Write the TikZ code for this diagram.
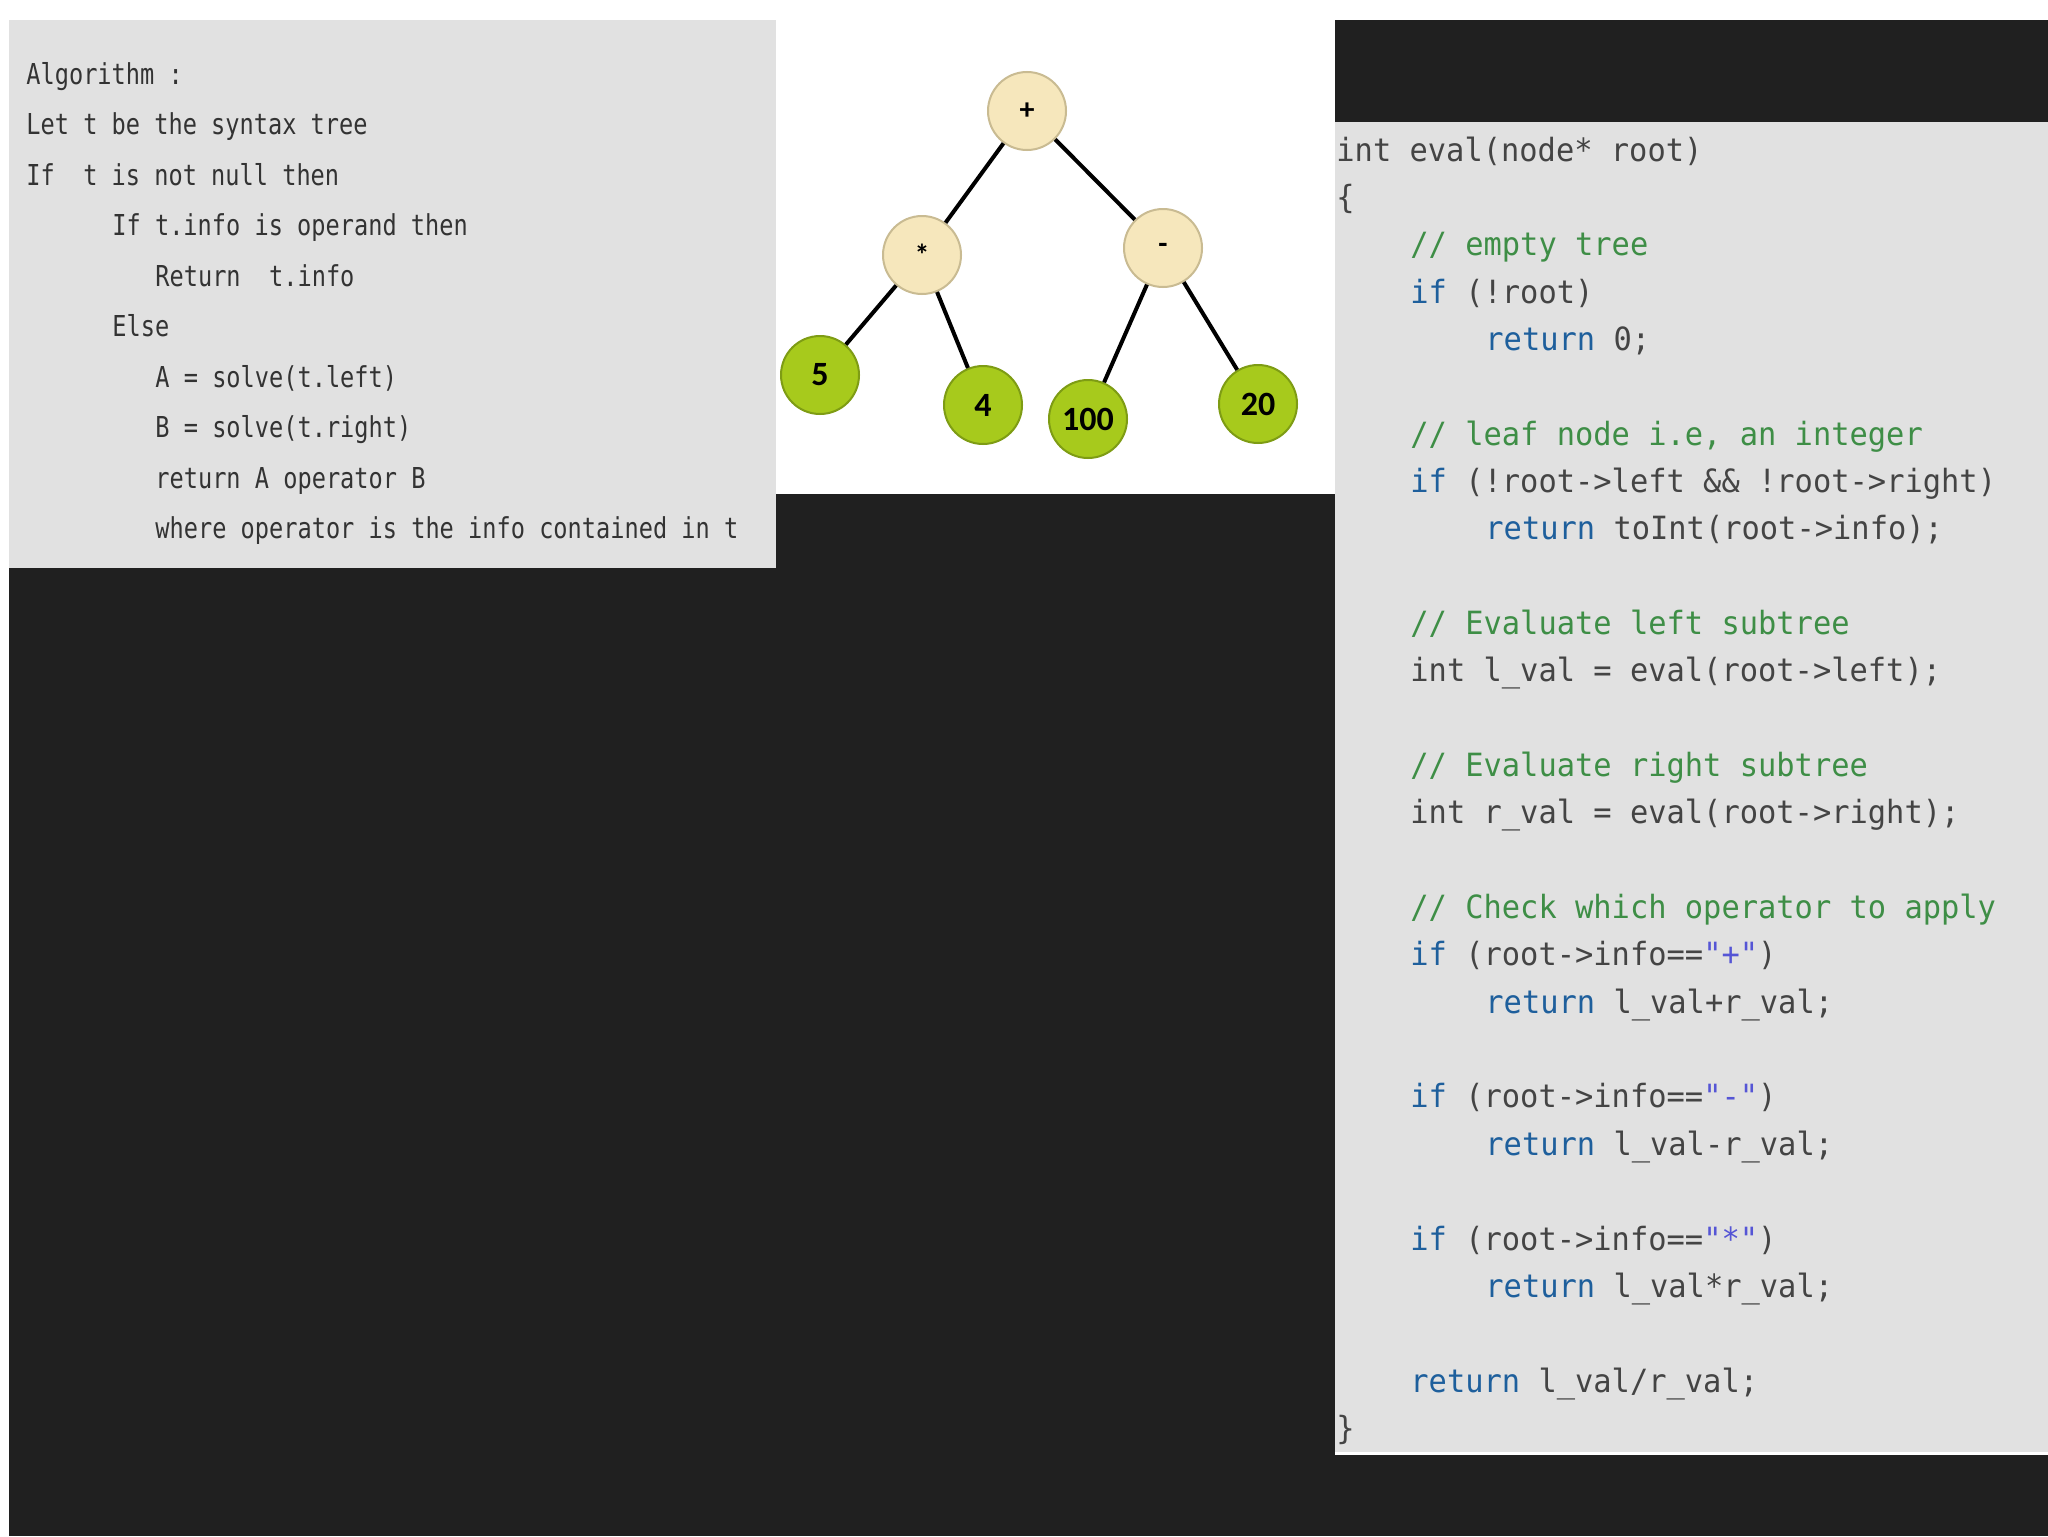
\documentclass[tikz,border=0pt]{standalone}
\usepackage{fontspec}
\setmainfont{Carlito}
\newfontfamily\algofont{DejaVu Sans Mono}[FakeStretch=0.82]
\newfontfamily\codefont{DejaVu Sans Mono}[FakeStretch=0.95]
\usetikzlibrary{positioning}

\definecolor{darkbg}{HTML}{202020}
\definecolor{panelgrey}{HTML}{E1E1E1}
\definecolor{algotext}{HTML}{333333}
\definecolor{codetext}{HTML}{444444}
\definecolor{kwblue}{HTML}{1E5F9C}
\definecolor{cmtgreen}{HTML}{3E8E46}
\definecolor{strviolet}{HTML}{5555D5}
\definecolor{opfill}{HTML}{F6E7BC}
\definecolor{opborder}{HTML}{C9BB92}
\definecolor{leaffill}{HTML}{A7CA1C}
\definecolor{leafborder}{HTML}{7E9C14}

\newcommand{\kw}[1]{\textcolor{kwblue}{#1}}
\newcommand{\cmt}[1]{\textcolor{cmtgreen}{#1}}
\newcommand{\strg}[1]{\textcolor{strviolet}{#1}}

\begin{document}
\begin{tikzpicture}[x=0.5pt,y=-0.5pt,
  algo/.style={anchor=base west, inner sep=0pt, text=algotext,
    font=\algofont\fontsize{14.4}{16}\selectfont},
  code/.style={anchor=base west, inner sep=0pt, text=codetext,
    font=\codefont\fontsize{16}{18}\selectfont},
  opnode/.style={circle, draw=opborder, fill=opfill, line width=1pt,
    minimum size=39pt, inner sep=0pt, font=\bfseries\fontsize{15}{15}\selectfont},
  leafnode/.style={circle, draw=leafborder, fill=leaffill, line width=1pt,
    minimum size=39pt, inner sep=0pt, font=\bfseries\fontsize{17}{17}\selectfont},
  edge/.style={line width=2pt, black}]

\useasboundingbox (0,0) rectangle (2048,1536);
\fill[white] (0,0) rectangle (2048,1536);
\fill[darkbg] (9,20) rectangle (2048,1536);

% panels
\fill[panelgrey] (9,20) rectangle (776,568);
\fill[white] (776,20) rectangle (1335,494);
\fill[panelgrey] (1335,122) rectangle (2048,1455);
\draw[white, line width=1.5pt] (1335,1453) -- (2048,1453);

% algorithm
\node[algo] (a1) at (26,84) {Algorithm :};
\node[algo] (a2) at (26,134.5) {Let t be the syntax tree};
\node[algo] (a3) at (26,185) {If\ \ t is not null then};
\node[algo] (a4) at (112,235.5) {If t.info is operand then};
\node[algo] (a5) at (155,286) {Return\ \ t.info};
\node[algo] (a6) at (112,336.5) {Else};
\node[algo] (a7) at (155,387) {A = solve(t.left)};
\node[algo] (a8) at (155,437.5) {B = solve(t.right)};
\node[algo] (a9) at (155,488) {return A operator B};
\node[algo] (a10) at (155,538.5) {where operator is the info contained in t};

% syntax tree
\node[opnode] (plus) at (1027,111) {+};
\node[opnode] (times) at (922,255) {*};
\node[opnode] (minus) at (1163,248) {-};
\node[leafnode] (five) at (820,375) {5};
\node[leafnode] (four) at (983,405) {4};
\node[leafnode] (hundred) at (1088,419) {100};
\node[leafnode] (twenty) at (1258,404) {20};

\draw[edge] (plus) -- (times);
\draw[edge] (plus) -- (minus);
\draw[edge] (times) -- (five);
\draw[edge] (times) -- (four);
\draw[edge] (minus) -- (hundred);
\draw[edge] (minus) -- (twenty);

% code
\node[code] (c1) at (1336,161) {int eval(node* root)};
\node[code] (c2) at (1336,208) {\{};
\node[code] (c3) at (1410,255.5) {\cmt{// empty tree}};
\node[code] (c4) at (1410,303) {\kw{if} (!root)};
\node[code] (c5) at (1485,350) {\kw{return} 0;};
\node[code] (c7) at (1410,445) {\cmt{// leaf node i.e, an integer}};
\node[code] (c8) at (1410,492) {\kw{if} (!root->left \&\& !root->right)};
\node[code] (c9) at (1485,539.5) {\kw{return} toInt(root->info);};
\node[code] (c11) at (1410,634.5) {\cmt{// Evaluate left subtree}};
\node[code] (c12) at (1410,681.5) {int l\_val = eval(root->left);};
\node[code] (c14) at (1410,776.5) {\cmt{// Evaluate right subtree}};
\node[code] (c15) at (1410,823.5) {int r\_val = eval(root->right);};
\node[code] (c17) at (1410,918.5) {\cmt{// Check which operator to apply}};
\node[code] (c18) at (1410,965.5) {\kw{if} (root->info==\strg{"+"})};
\node[code] (c19) at (1485,1013) {\kw{return} l\_val+r\_val;};
\node[code] (c21) at (1410,1107.5) {\kw{if} (root->info==\strg{"-"})};
\node[code] (c22) at (1485,1155) {\kw{return} l\_val-r\_val;};
\node[code] (c24) at (1410,1250) {\kw{if} (root->info==\strg{"*"})};
\node[code] (c25) at (1485,1297) {\kw{return} l\_val*r\_val;};
\node[code] (c27) at (1410,1392) {\kw{return} l\_val/r\_val;};
\node[code] (c28) at (1336,1439) {\}};

\end{tikzpicture}
\end{document}
